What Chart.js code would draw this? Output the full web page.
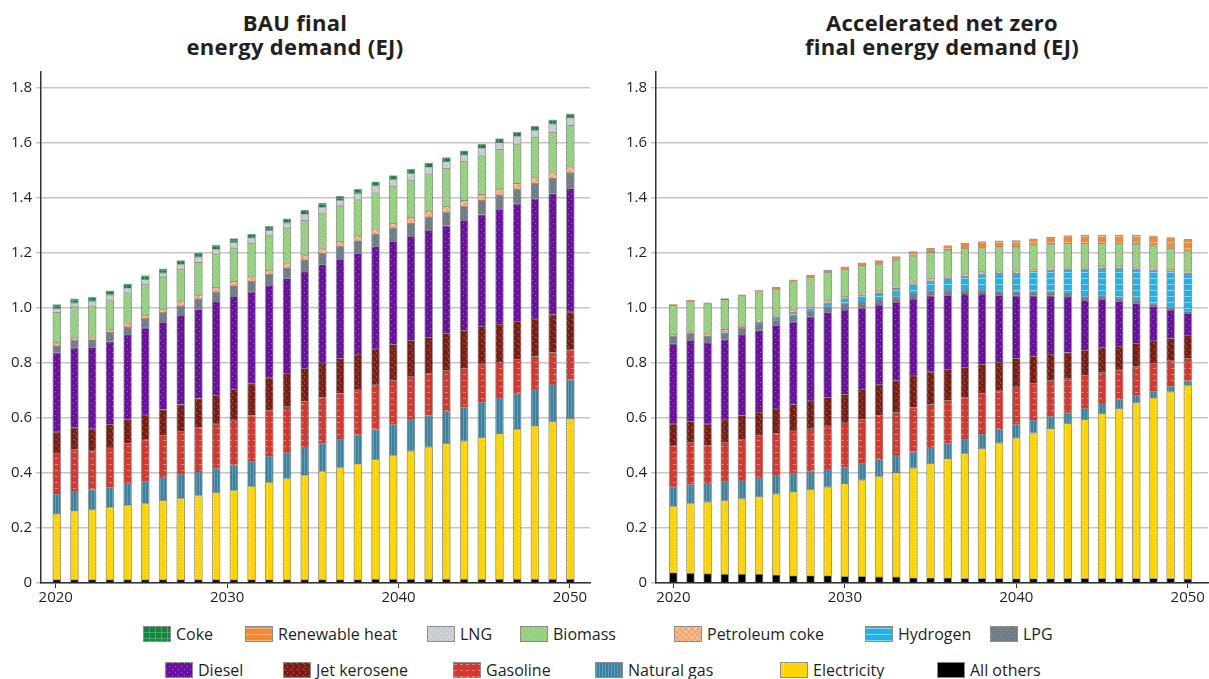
<!DOCTYPE html>
<html>
<head>
<meta charset="utf-8">
<script src="https://cdn.jsdelivr.net/npm/chart.js@4.4.1/dist/chart.umd.min.js"></script>
<style>
body { margin: 0; background: #fff; font-family: "Open Sans", sans-serif; color: #231f20; }
#wrap { position: relative; width: 1209px; height: 679px; overflow: hidden; }
.title { position: absolute; top: 10px; width: 400px; text-align: center; font-weight: 700; font-size: 22px; line-height: 24px; letter-spacing: 0.3px; }
#bau { position: absolute; left: 0; top: 0; }
#nz { position: absolute; left: 600px; top: 0; }
.lg { position: absolute; height: 20px; display: flex; align-items: center; font-size: 16px; white-space: nowrap; }
.lg canvas { margin-right: 5px; }
</style>
</head>
<body>
<div id="wrap">
  <div class="title" style="left:95px">BAU final<br>energy demand (EJ)</div>
  <div class="title" style="left:742px">Accelerated net zero<br>final energy demand (EJ)</div>
  <canvas id="bau" width="600" height="615"></canvas>
  <canvas id="nz" width="609" height="615"></canvas>
  <div id="legend"></div>
</div>
<script>
// axis ticks
var yTicks = [0, 0.2, 0.4, 0.6, 0.8, 1.0, 1.2, 1.4, 1.6, 1.8];
var xTicks = [2020, 2030, 2040, 2050];

// BAU: 30 bars drawn across 2020-2050
var bauYears = [2021, 2022, 2023, 2024, 2025, 2026, 2027, 2028, 2029, 2030,
                2031, 2032, 2033, 2034, 2035, 2036, 2037, 2038, 2039, 2040,
                2041, 2042, 2043, 2044, 2045, 2046, 2047, 2048, 2049, 2050];
var bauOthers = [0.012, 0.012, 0.012, 0.012, 0.012, 0.012, 0.012, 0.012, 0.012, 0.012,
                 0.012, 0.012, 0.012, 0.012, 0.012, 0.012, 0.012, 0.012, 0.014, 0.014,
                 0.014, 0.014, 0.014, 0.014, 0.014, 0.014, 0.014, 0.014, 0.014, 0.014];
var bauElec = [0.240, 0.251, 0.255, 0.264, 0.272, 0.279, 0.289, 0.297, 0.306, 0.318,
               0.326, 0.340, 0.355, 0.368, 0.381, 0.395, 0.408, 0.422, 0.436, 0.451,
               0.467, 0.481, 0.494, 0.503, 0.516, 0.530, 0.546, 0.558, 0.573, 0.585];
var bauGas = [0.071, 0.070, 0.073, 0.073, 0.078, 0.080, 0.082, 0.086, 0.086, 0.086,
              0.092, 0.092, 0.095, 0.094, 0.100, 0.100, 0.104, 0.105, 0.108, 0.111,
              0.113, 0.114, 0.117, 0.122, 0.128, 0.128, 0.128, 0.132, 0.135, 0.141];
var bauGasoline = [0.149, 0.152, 0.141, 0.143, 0.146, 0.150, 0.155, 0.157, 0.163, 0.163,
                   0.164, 0.165, 0.165, 0.168, 0.168, 0.169, 0.165, 0.164, 0.164, 0.161,
                   0.157, 0.155, 0.149, 0.143, 0.139, 0.132, 0.126, 0.121, 0.116, 0.108];
var bauJet = [0.078, 0.080, 0.080, 0.086, 0.087, 0.091, 0.093, 0.097, 0.104, 0.104,
              0.110, 0.116, 0.119, 0.122, 0.120, 0.125, 0.128, 0.130, 0.130, 0.131,
              0.132, 0.130, 0.135, 0.138, 0.136, 0.138, 0.137, 0.136, 0.138, 0.138];
var bauDiesel = [0.287, 0.290, 0.296, 0.300, 0.308, 0.316, 0.318, 0.325, 0.324, 0.340,
                 0.338, 0.334, 0.336, 0.344, 0.351, 0.358, 0.361, 0.366, 0.372, 0.374,
                 0.378, 0.388, 0.391, 0.400, 0.407, 0.418, 0.428, 0.437, 0.440, 0.449];
var bauLpg = [0.026, 0.028, 0.028, 0.033, 0.028, 0.034, 0.035, 0.035, 0.039, 0.037,
              0.039, 0.039, 0.040, 0.039, 0.044, 0.040, 0.046, 0.046, 0.046, 0.049,
              0.049, 0.049, 0.049, 0.050, 0.051, 0.051, 0.053, 0.055, 0.055, 0.057];
var bauH2 = [0, 0, 0, 0, 0, 0, 0, 0, 0, 0, 0, 0, 0, 0, 0, 0, 0, 0, 0, 0, 0, 0, 0, 0, 0, 0, 0, 0, 0, 0];
var bauPetcoke = [0.011, 0.009, 0.010, 0.010, 0.015, 0.012, 0.012, 0.016, 0.013, 0.015,
                  0.016, 0.016, 0.016, 0.017, 0.017, 0.017, 0.017, 0.018, 0.018, 0.017,
                  0.020, 0.021, 0.021, 0.021, 0.022, 0.022, 0.021, 0.021, 0.024, 0.022];
var bauBiomass = [0.110, 0.113, 0.113, 0.109, 0.110, 0.113, 0.117, 0.116, 0.119, 0.122,
                  0.122, 0.122, 0.125, 0.127, 0.126, 0.130, 0.130, 0.131, 0.132, 0.135,
                  0.135, 0.136, 0.138, 0.143, 0.141, 0.144, 0.144, 0.147, 0.144, 0.150];
var bauLng = [0.014, 0.014, 0.017, 0.018, 0.017, 0.017, 0.015, 0.017, 0.020, 0.017,
              0.019, 0.019, 0.020, 0.019, 0.023, 0.021, 0.021, 0.023, 0.025, 0.024,
              0.025, 0.025, 0.025, 0.023, 0.028, 0.025, 0.028, 0.026, 0.031, 0.028];
var bauRenew = [0, 0, 0, 0, 0, 0, 0, 0, 0, 0, 0, 0, 0, 0, 0, 0, 0, 0, 0, 0, 0, 0, 0, 0, 0, 0, 0, 0, 0, 0];
var bauCoke = [0.014, 0.014, 0.014, 0.014, 0.014, 0.014, 0.014, 0.014, 0.014, 0.014,
               0.014, 0.014, 0.014, 0.014, 0.014, 0.014, 0.014, 0.014, 0.014, 0.014,
               0.014, 0.014, 0.014, 0.014, 0.014, 0.014, 0.014, 0.014, 0.014, 0.014];

// Accelerated net zero: 2020-2050
var nzYears = [2020, 2021, 2022, 2023, 2024, 2025, 2026, 2027, 2028, 2029, 2030,
               2031, 2032, 2033, 2034, 2035, 2036, 2037, 2038, 2039, 2040,
               2041, 2042, 2043, 2044, 2045, 2046, 2047, 2048, 2049, 2050];
var nzOthers = [0.038, 0.036, 0.034, 0.032, 0.032, 0.032, 0.030, 0.027, 0.027, 0.027, 0.024,
                0.024, 0.022, 0.022, 0.019, 0.019, 0.019, 0.017, 0.017, 0.017, 0.016,
                0.016, 0.016, 0.017, 0.017, 0.017, 0.017, 0.017, 0.017, 0.017, 0.015];
var nzElec = [0.242, 0.255, 0.261, 0.269, 0.275, 0.283, 0.295, 0.305, 0.314, 0.323, 0.338,
              0.351, 0.367, 0.380, 0.400, 0.416, 0.434, 0.455, 0.473, 0.493, 0.512,
              0.531, 0.546, 0.564, 0.578, 0.600, 0.618, 0.639, 0.657, 0.679, 0.705];
var nzGas = [0.070, 0.068, 0.067, 0.069, 0.066, 0.068, 0.067, 0.067, 0.064, 0.063, 0.059,
             0.060, 0.061, 0.061, 0.059, 0.057, 0.055, 0.052, 0.052, 0.050, 0.050,
             0.046, 0.045, 0.038, 0.040, 0.036, 0.033, 0.028, 0.024, 0.020, 0.015];
var nzGasoline = [0.149, 0.153, 0.139, 0.143, 0.149, 0.154, 0.153, 0.155, 0.157, 0.159, 0.162,
                  0.160, 0.161, 0.158, 0.160, 0.159, 0.157, 0.151, 0.148, 0.139, 0.136,
                  0.133, 0.129, 0.125, 0.121, 0.113, 0.107, 0.103, 0.101, 0.095, 0.083];
var nzJet = [0.080, 0.077, 0.078, 0.081, 0.088, 0.085, 0.089, 0.096, 0.101, 0.103, 0.104,
             0.109, 0.111, 0.115, 0.116, 0.117, 0.113, 0.109, 0.106, 0.103, 0.103,
             0.099, 0.097, 0.094, 0.091, 0.090, 0.087, 0.085, 0.082, 0.079, 0.084];
var nzDiesel = [0.291, 0.293, 0.295, 0.291, 0.293, 0.297, 0.303, 0.300, 0.305, 0.309, 0.306,
                0.296, 0.289, 0.285, 0.279, 0.276, 0.269, 0.267, 0.255, 0.245, 0.227,
                0.219, 0.211, 0.203, 0.182, 0.176, 0.163, 0.145, 0.126, 0.103, 0.079];
var nzLpg = [0.028, 0.027, 0.025, 0.025, 0.025, 0.024, 0.018, 0.022, 0.022, 0.021, 0.024,
             0.022, 0.021, 0.020, 0.020, 0.019, 0.018, 0.014, 0.014, 0.015, 0.015,
             0.015, 0.015, 0.012, 0.012, 0.012, 0.010, 0.012, 0.008, 0.006, 0.006];
var nzH2 = [0, 0, 0, 0.003, 0.003, 0.006, 0.012, 0.012, 0.011, 0.014, 0.017,
            0.024, 0.021, 0.030, 0.034, 0.036, 0.043, 0.051, 0.059, 0.065, 0.067,
            0.074, 0.079, 0.088, 0.100, 0.100, 0.109, 0.112, 0.123, 0.136, 0.139];
var nzPetcoke = [0.005, 0.007, 0.008, 0.009, 0.008, 0.009, 0.009, 0.009, 0.007, 0.008, 0.007,
                 0.009, 0.009, 0.007, 0.009, 0.009, 0.009, 0.009, 0.008, 0.008, 0.010,
                 0.008, 0.009, 0.009, 0.009, 0.009, 0.009, 0.009, 0.009, 0.006, 0.010];
var nzBiomass = [0.107, 0.109, 0.109, 0.109, 0.106, 0.102, 0.094, 0.103, 0.104, 0.103, 0.100,
                 0.100, 0.098, 0.097, 0.094, 0.095, 0.094, 0.092, 0.089, 0.088, 0.087,
                 0.089, 0.086, 0.085, 0.085, 0.082, 0.082, 0.083, 0.079, 0.076, 0.072];
var nzLng = [0, 0, 0, 0, 0, 0, 0, 0, 0, 0, 0, 0, 0, 0, 0, 0, 0, 0, 0, 0, 0, 0, 0, 0, 0, 0, 0, 0, 0, 0, 0];
var nzRenew = [0.002, 0.003, 0.003, 0.003, 0.003, 0.004, 0.005, 0.006, 0.008, 0.008, 0.009,
               0.009, 0.012, 0.012, 0.015, 0.014, 0.016, 0.018, 0.020, 0.021, 0.022,
               0.021, 0.024, 0.028, 0.030, 0.030, 0.030, 0.032, 0.036, 0.039, 0.042];
var nzCoke = [0, 0, 0, 0, 0, 0, 0, 0, 0, 0, 0, 0, 0, 0, 0, 0, 0, 0, 0, 0, 0, 0, 0, 0, 0, 0, 0, 0, 0, 0, 0];

// stacking order, bottom to top
var seriesNames = ["All others", "Electricity", "Natural gas", "Gasoline", "Jet kerosene", "Diesel",
                   "LPG", "Hydrogen", "Petroleum coke", "Biomass", "LNG", "Renewable heat", "Coke"];
var bauSeries = [bauOthers, bauElec, bauGas, bauGasoline, bauJet, bauDiesel,
                 bauLpg, bauH2, bauPetcoke, bauBiomass, bauLng, bauRenew, bauCoke];
var nzSeries = [nzOthers, nzElec, nzGas, nzGasoline, nzJet, nzDiesel,
                nzLpg, nzH2, nzPetcoke, nzBiomass, nzLng, nzRenew, nzCoke];

// fill colour, texture colour, texture kind
var looks = {
    "All others": ["#000000", "#000000", "solid"],
    "Electricity": ["#FFD400", "#FFEE99", "vdots"],
    "Natural gas": ["#3A809F", "#5F9EB9", "vlines"],
    "Gasoline": ["#D5382F", "#EE8277", "dash"],
    "Jet kerosene": ["#7A1B14", "#A44C3F", "squig"],
    "Diesel": ["#6B0FA3", "#9D63CB", "dots"],
    "LPG": ["#707D87", "#8E9AA3", "dots"],
    "Hydrogen": ["#1DB3EA", "#80D7F6", "hlines"],
    "Petroleum coke": ["#F8A570", "#FCCBA3", "cross"],
    "Biomass": ["#94CF7E", "#B6DFA4", "speck"],
    "LNG": ["#C8CDD2", "#E8EBEE", "dots"],
    "Renewable heat": ["#F5892F", "#F9B47B", "hlines"],
    "Coke": ["#138541", "#44AB69", "grid"]
};

var legendRows = [
    [["Coke", 143], ["Renewable heat", 245], ["LNG", 427], ["Biomass", 520],
     ["Petroleum coke", 674], ["Hydrogen", 865], ["LPG", 990]],
    [["Diesel", 165], ["Jet kerosene", 283], ["Gasoline", 453], ["Natural gas", 595],
     ["Electricity", 780], ["All others", 937]]
];
var legendTops = [624, 660];

var FONT = '"Open Sans", sans-serif';

function makeTile(name) {
    var look = looks[name];
    var c = document.createElement("canvas");
    c.width = 6;
    c.height = 6;
    var g = c.getContext("2d");
    g.fillStyle = look[0];
    g.fillRect(0, 0, 6, 6);
    g.fillStyle = look[1];
    var kind = look[2];
    if (kind === "dots") {
        g.fillRect(1, 1, 1, 1);
        g.fillRect(4, 4, 1, 1);
    } else if (kind === "vdots") {
        g.fillRect(3, 1, 1, 1);
        g.fillRect(3, 4, 1, 1);
    } else if (kind === "hlines") {
        g.fillRect(0, 2, 6, 1);
    } else if (kind === "vlines") {
        g.fillRect(1, 0, 1, 6);
        g.fillRect(4, 0, 1, 6);
    } else if (kind === "grid") {
        g.fillRect(0, 0, 6, 1);
        g.fillRect(0, 0, 1, 6);
    } else if (kind === "dash") {
        g.fillRect(1, 2, 3, 1);
    } else if (kind === "cross") {
        for (var i = 0; i < 6; i++) {
            g.fillRect(i, i, 1, 1);
            g.fillRect(5 - i, i, 1, 1);
        }
    } else if (kind === "speck") {
        g.fillRect(0, 1, 1, 1);
        g.fillRect(3, 0, 1, 1);
        g.fillRect(2, 3, 1, 1);
        g.fillRect(5, 4, 1, 1);
    } else if (kind === "squig") {
        g.fillRect(1, 1, 2, 1);
        g.fillRect(3, 2, 1, 1);
        g.fillRect(4, 4, 1, 2);
    }
    return c;
}

function buildChart(canvasId, labels, series, barRange, tickRange, yWidth, padRight) {
    var ctx = document.getElementById(canvasId).getContext("2d");
    var datasets = seriesNames.map(function (name, i) {
        return {
            label: name,
            data: series[i].map(function (v) { return v === 0 ? null : v; }),
            backgroundColor: ctx.createPattern(makeTile(name), "repeat"),
            borderColor: "rgba(70,70,70,0.55)",
            borderWidth: 1,
            barThickness: 8,
            xAxisID: "xb"
        };
    });
    return new Chart(ctx, {
        type: "bar",
        data: { labels: labels, datasets: datasets },
        options: {
            responsive: false,
            animation: false,
            layout: { padding: { top: 72, right: padRight, left: 0, bottom: 0 } },
            plugins: { legend: { display: false }, tooltip: { enabled: false } },
            scales: {
                xb: {
                    type: "linear",
                    display: false,
                    stacked: true,
                    offset: false,
                    grid: { offset: false },
                    min: barRange[0],
                    max: barRange[1]
                },
                xt: {
                    type: "linear",
                    position: "bottom",
                    offset: false,
                    min: tickRange[0],
                    max: tickRange[1],
                    afterBuildTicks: function (s) {
                        s.ticks = xTicks.map(function (v) { return { value: v }; });
                    },
                    afterFit: function (s) { s.height = 32; },
                    ticks: {
                        autoSkip: false,
                        maxRotation: 0,
                        padding: 1,
                        color: "#231f20",
                        font: { family: FONT, size: 15 },
                        callback: function (v) { return String(v); }
                    },
                    grid: { offset: false, drawOnChartArea: false, tickLength: 5, tickColor: "#333", tickWidth: 1 },
                    border: { color: "#333", width: 1.5 }
                },
                y: {
                    stacked: true,
                    min: 0,
                    max: 1.858,
                    afterBuildTicks: function (s) {
                        s.ticks = yTicks.map(function (v) { return { value: v }; });
                    },
                    afterFit: function (s) { s.width = yWidth; },
                    ticks: {
                        padding: 4,
                        color: "#231f20",
                        font: { family: FONT, size: 15 },
                        callback: function (v) { return v === 0 ? "0" : v.toFixed(1); }
                    },
                    grid: { color: "#c2c6ca", lineWidth: 1.5, tickLength: 5, tickColor: "#c2c6ca" },
                    border: { color: "#333", width: 1.5 }
                }
            }
        }
    });
}

buildChart("bau", bauYears, bauSeries, [2020.11, 2051.11], [2019.14, 2051.17], 41, 10);
buildChart("nz", nzYears, nzSeries, [2018.99, 2051.18], [2018.99, 2051.18], 56, 1);

// shared legend
var legend = document.getElementById("legend");
legendRows.forEach(function (row, r) {
    row.forEach(function (item) {
        var div = document.createElement("div");
        div.className = "lg";
        div.style.left = item[1] + "px";
        div.style.top = legendTops[r] + "px";
        var sw = document.createElement("canvas");
        sw.width = 28;
        sw.height = 16;
        var g = sw.getContext("2d");
        g.fillStyle = g.createPattern(makeTile(item[0]), "repeat");
        g.fillRect(0, 0, 28, 16);
        g.strokeStyle = "#8c8c8c";
        g.lineWidth = 1;
        g.strokeRect(0.5, 0.5, 27, 15);
        div.appendChild(sw);
        var span = document.createElement("span");
        span.textContent = item[0];
        div.appendChild(span);
        legend.appendChild(div);
    });
});
</script>
</body>
</html>
